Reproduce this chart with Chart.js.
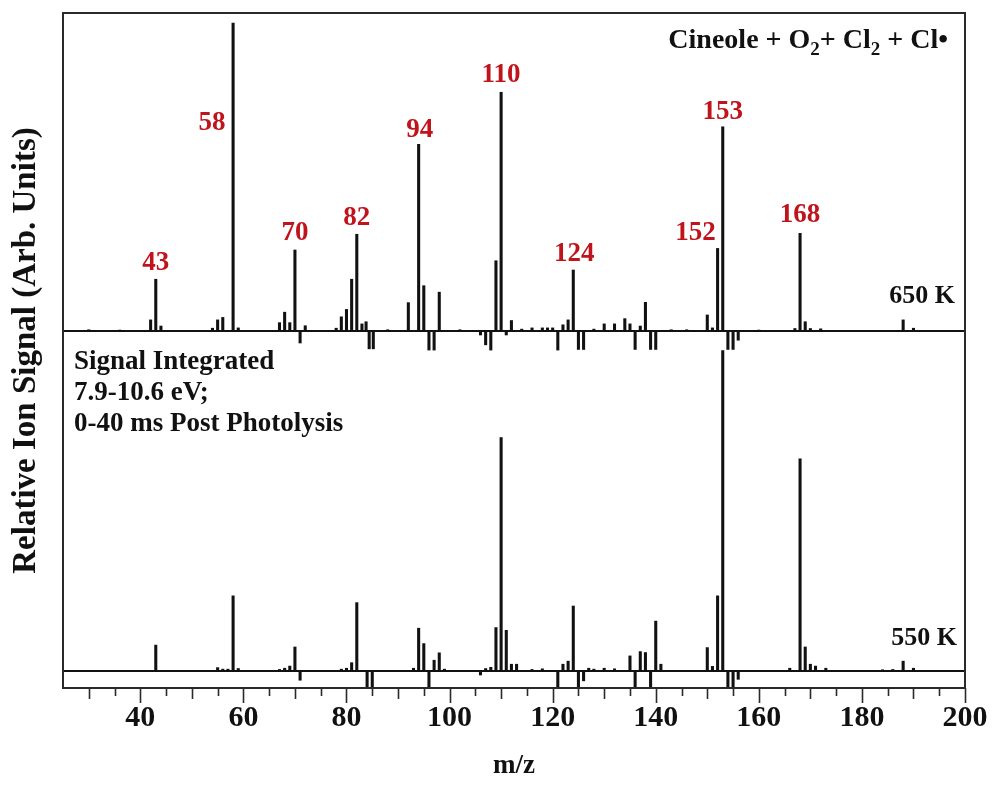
<!DOCTYPE html>
<html>
<head>
<meta charset="utf-8">
<title>Cineole + O2 + Cl2 + Cl mass spectra</title>
<script src="https://cdn.jsdelivr.net/npm/chart.js@4.4.1/dist/chart.umd.min.js"></script>
<style>
  html, body { margin: 0; padding: 0; background: #fff; }
  #wrap { width: 992px; height: 785px; }
</style>
</head>
<body>
<div id="wrap"><canvas id="ms" width="992" height="785"></canvas></div>
<script>
/* ---- data: m/z and integrated signal (arb. units, m/z 58 at 650 K = 100) ---- */
const mz650  = [30, 36, 42, 43, 44, 54, 55, 56, 58, 59, 67, 68, 69, 70, 71, 72,
                78, 79, 80, 81, 82, 83, 83.8, 84.4, 85.2, 88, 92, 94, 95, 96, 97, 98, 102,
                106, 107, 108, 109, 110, 111, 112, 114, 116, 118, 119, 120, 121, 122, 123, 124, 125, 126,
                128, 130, 132, 134, 135, 136, 137, 138, 139, 140, 143, 146, 150, 151, 152, 153, 154, 155, 156,
                160, 167, 168, 169, 170, 172, 188, 190];
const sig650 = [0.4, 0.3, 3.6, 16.8, 1.6, 0.9, 3.6, 4.4, 100, 1.0, 2.7, 6.1, 2.7, 26.3, -3.9, 1.7,
                0.9, 4.6, 7.0, 16.8, 31.4, 2.3, 3.0, -5.8, -5.8, 0.4, 9.2, 60.6, 14.7, -6.2, -6.2, 12.6, 0.4,
                -1.3, -4.5, -6.2, 22.8, 77.5, -1.3, 3.4, 0.6, 1.0, 1.0, 1.0, 1.0, -6.2, 2.0, 3.6, 19.8, -6.0, -6.0,
                0.6, 2.3, 2.3, 4.0, 2.3, -6.0, 1.6, 9.3, -6.0, -6.0, 0.4, 0.4, 5.2, 1.0, 26.8, 66.3, -6.0, -6.0, -3.0,
                0.3, 0.8, 31.7, 3.0, 0.8, 0.7, 3.6, 0.9];

const mz550  = [43, 55, 56, 57, 58, 59, 67, 68, 69, 70, 71, 79, 80, 81, 82, 84, 85,
                93, 94, 95, 96, 97, 98, 99, 106, 107, 108, 109, 110, 111, 112, 113, 116, 118,
                121, 122, 123, 124, 125, 126, 127, 128, 130, 132, 135, 136, 137, 138, 139, 140, 141,
                150, 151, 152, 153, 154, 155, 156, 166, 168, 169, 170, 171, 173, 184, 186, 188, 190];
const sig550 = [8.4, 1.1, 0.6, 0.6, 24.4, 0.8, 0.5, 0.9, 1.6, 7.8, -3.0, 0.6, 0.9, 2.7, 22.2, -5.4, -5.4,
                0.9, 13.9, 8.9, -5.4, 3.5, 5.9, 0.6, -1.3, 0.8, 1.2, 14.1, 75.8, 13.2, 2.2, 2.2, 0.5, 0.7,
                -5.4, 2.2, 3.2, 21.1, -5.4, -3.2, 0.9, 0.6, 0.9, 0.7, 4.9, -5.4, 6.3, 6.0, -5.4, 16.2, 2.2,
                7.6, 1.5, 24.4, 104, -5.4, -5.4, -2.7, 0.9, 68.9, 7.8, 2.2, 1.6, 0.9, 0.4, 0.5, 3.2, 0.9];

const labelledMz = [43, 58, 70, 82, 94, 110, 124, 152, 153, 168];

const X_MIN = 25, X_MAX = 200;
const Y_MIN = -5.52, Y_MAX = 213.64;
const OFFSET_650 = 110.4;   // vertical shift of the 650 K trace

/* label nudges in px, keyed by m/z */
const labelNudge = {
  43: [0, -16], 58: [-21, 100], 70: [0, -17], 82: [0, -16], 94: [1, -14],
  110: [0, -17], 124: [1, -16], 152: [-22, -15], 153: [0, -15], 168: [0, -18]
};

const SERIF = "'Liberation Serif', 'Times New Roman', serif";
const INK = '#111';
const RED = '#c0141c';

function bars(mz, sig, base) {
  return mz.map((m, i) => ({ x: m, y: [base, base + sig[i]] }));
}
function baseline(base) {
  return [{ x: X_MIN, y: base }, { x: X_MAX, y: base }];
}

/* frame, tick marks and in-plot text */
const decorations = {
  id: 'decorations',
  afterDraw(chart) {
    const { ctx, chartArea: a, scales: { x, y } } = chart;
    ctx.save();

    // box round the plot
    ctx.strokeStyle = '#2a2a2a';
    ctx.lineWidth = 2;
    ctx.strokeRect(a.left, a.top, a.right - a.left, a.bottom - a.top);

    // outward ticks on m/z axis, three lengths
    ctx.lineWidth = 1.6;
    x.ticks.forEach(t => {
      const v = t.value;
      if (v <= X_MIN) return;
      const len = v % 20 === 0 ? 15 : (v % 10 === 0 ? 11 : 8);
      const px = Math.round(x.getPixelForValue(v)) + 0.5;
      ctx.beginPath();
      ctx.moveTo(px, a.bottom);
      ctx.lineTo(px, a.bottom + len);
      ctx.stroke();
    });

    // peak labels
    ctx.fillStyle = RED;
    ctx.font = 'bold 27px ' + SERIF;
    ctx.textAlign = 'center';
    ctx.textBaseline = 'middle';
    labelledMz.forEach(m => {
      const i = mz650.indexOf(m);
      const n = labelNudge[m];
      const px = x.getPixelForValue(m) + n[0];
      const py = y.getPixelForValue(OFFSET_650 + sig650[i]) + n[1];
      ctx.fillText(String(m), px, py);
    });

    // reaction label with subscripts, right aligned
    ctx.fillStyle = INK;
    ctx.textBaseline = 'alphabetic';
    ctx.textAlign = 'left';
    const big = 'bold 28px ' + SERIF, small = 'bold 19px ' + SERIF;
    const parts = [['Cineole + O', big, 0], ['2', small, 7], ['+ Cl', big, 0], ['2', small, 7], [' + Cl\u2022', big, 0]];
    let w = 0;
    parts.forEach(p => { ctx.font = p[1]; w += ctx.measureText(p[0]).width; });
    let cx = 948 - w;
    parts.forEach(p => {
      ctx.font = p[1];
      ctx.fillText(p[0], cx, 48 + p[2]);
      cx += ctx.measureText(p[0]).width;
    });

    // temperature tags
    ctx.font = 'bold 26px ' + SERIF;
    ctx.textAlign = 'right';
    ctx.textBaseline = 'middle';
    ctx.fillText('650 K', 955, 296);
    ctx.fillText('550 K', 957, 638);

    // conditions block
    ctx.textAlign = 'left';
    ctx.textBaseline = 'alphabetic';
    ctx.font = 'bold 27px ' + SERIF;
    ctx.fillText('Signal Integrated', 74, 369);
    ctx.fillText('7.9-10.6 eV;', 74, 400);
    ctx.fillText('0-40 ms Post Photolysis', 74, 431);

    ctx.restore();
  }
};

new Chart(document.getElementById('ms'), {
  type: 'bar',
  data: {
    datasets: [
      { data: bars(mz650, sig650, OFFSET_650), backgroundColor: INK, barThickness: 2.4, grouped: false },
      { data: bars(mz550, sig550, 0), backgroundColor: INK, barThickness: 2.4, grouped: false },
      { type: 'line', data: baseline(OFFSET_650), borderColor: INK, borderWidth: 2, pointRadius: 0 },
      { type: 'line', data: baseline(0), borderColor: INK, borderWidth: 2, pointRadius: 0 }
    ]
  },
  options: {
    responsive: false,
    animation: false,
    devicePixelRatio: 1,
    layout: { padding: { left: 0, right: 27, top: 13, bottom: 0 } },
    plugins: { legend: { display: false }, tooltip: { enabled: false } },
    scales: {
      x: {
        type: 'linear', min: X_MIN, max: X_MAX, offset: false,
        grid: { display: false, drawTicks: false },
        border: { display: false },
        ticks: {
          stepSize: 5, autoSkip: false, maxRotation: 0, padding: 12,
          color: INK, font: { family: SERIF, size: 30, weight: 'bold' },
          callback: v => (v % 20 === 0 && v >= 40 ? String(v) : '')
        },
        title: {
          display: true, text: 'm/z', color: INK,
          font: { family: SERIF, size: 27, weight: 'bold' }, padding: { top: 0, bottom: 3 }
        },
        afterFit(s) { s.height = 97; s.paddingLeft = 0; s.paddingRight = 0; }
      },
      y: {
        min: Y_MIN, max: Y_MAX,
        grid: { display: false, drawTicks: false },
        border: { display: false },
        ticks: { display: false },
        title: {
          display: true, text: 'Relative Ion Signal (Arb. Units)', color: INK,
          font: { family: SERIF, size: 33, weight: 'bold' }, padding: { top: 7, bottom: 0 }
        },
        afterFit(s) { s.width = 63; }
      }
    }
  },
  plugins: [decorations]
});
</script>
</body>
</html>
